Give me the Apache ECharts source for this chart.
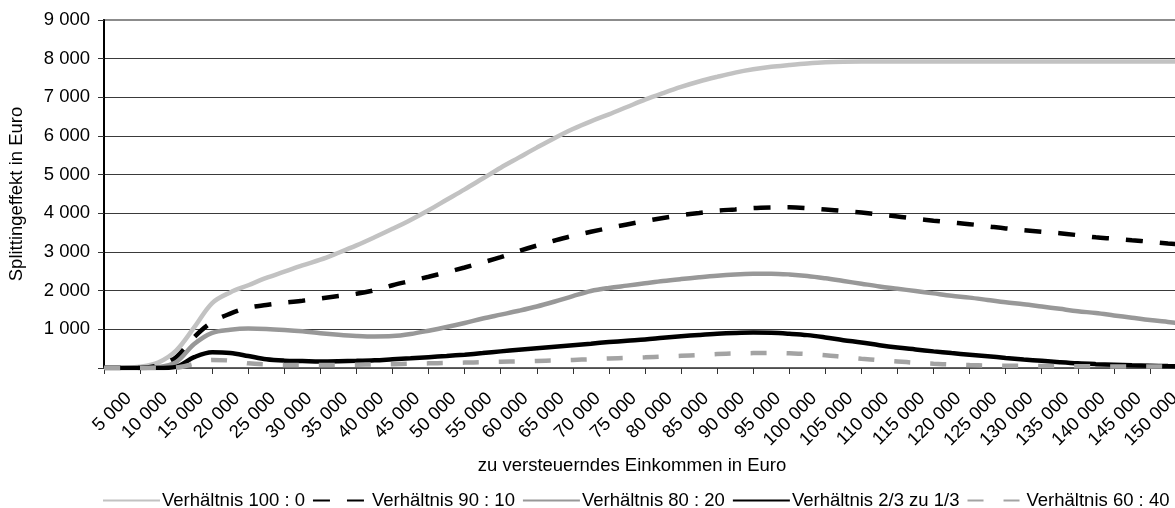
<!DOCTYPE html>
<html>
<head>
<meta charset="utf-8">
<script src="https://cdn.jsdelivr.net/npm/echarts@6/dist/echarts.min.js"></script>
<style>
  html, body { margin: 0; padding: 0; background: #fff; }
  #container { width: 1175px; height: 508px; }
</style>
</head>
<body>
<div id="container"></div>
<script>
// zu versteuerndes Einkommen (Stützstellen alle 2 500 Euro)
var incomes = [
  2500, 5000, 7500, 10000, 12500, 15000, 17500, 20000, 22500, 25000,
  27500, 30000, 32500, 35000, 37500, 40000, 42500, 45000, 47500, 50000,
  52500, 55000, 57500, 60000, 62500, 65000, 67500, 70000, 72500, 75000,
  77500, 80000, 82500, 85000, 87500, 90000, 92500, 95000, 97500, 100000,
  102500, 105000, 107500, 110000, 112500, 115000, 117500, 120000, 122500, 125000,
  127500, 130000, 132500, 135000, 137500, 140000, 142500, 145000, 147500, 150000,
  152500
];

var seriesNames = ['Verhältnis 100 : 0', 'Verhältnis 90 : 10', 'Verhältnis 80 : 20', 'Verhältnis 2/3 zu 1/3', 'Verhältnis 60 : 40'];

var v100_0 = [
  0, 0, 30, 140, 450, 1050, 1680, 1955, 2140, 2330,
  2490, 2655, 2800, 2980, 3170, 3380, 3600, 3830, 4080, 4350,
  4620, 4900, 5180, 5440, 5700, 5950, 6180, 6380, 6560, 6750,
  6940, 7110, 7270, 7410, 7530, 7640, 7725, 7790, 7835, 7875,
  7905, 7920, 7925, 7925, 7925, 7925, 7925, 7925, 7925, 7925,
  7925, 7925, 7925, 7925, 7925, 7925, 7925, 7925, 7925, 7925,
  7925
];
var v90_10 = [
  0, 0, 0, 70, 280, 800, 1190, 1405, 1560, 1630,
  1690, 1740, 1800, 1860, 1920, 2010, 2140, 2250, 2360, 2475,
  2600, 2730, 2867, 3024, 3166, 3298, 3420, 3523, 3620, 3712,
  3800, 3880, 3950, 4010, 4070, 4100, 4135, 4150, 4155, 4135,
  4100, 4060, 4020, 3970, 3920, 3860, 3810, 3765, 3720, 3665,
  3610, 3565, 3525, 3485, 3435, 3380, 3345, 3305, 3265, 3220,
  3180
];
var v80_20 = [
  0, 0, 0, 20, 150, 620, 910, 990, 1020, 1010,
  985, 950, 900, 860, 830, 815, 825, 880, 965, 1060,
  1165, 1280, 1380, 1480, 1590, 1720, 1860, 1990, 2070, 2130,
  2190, 2250, 2300, 2345, 2385, 2415, 2435, 2440, 2420, 2380,
  2320, 2250, 2180, 2110, 2050, 1990, 1930, 1870, 1820, 1760,
  1700, 1650, 1590, 1530, 1470, 1420, 1360, 1300, 1240, 1190,
  1140
];
var v23_13 = [
  0, 0, 0, 0, 30, 280, 410, 390, 310, 225,
  190, 180, 170, 175, 185, 200, 225, 250, 280, 310,
  345, 385, 430, 470, 510, 550, 590, 630, 670, 705,
  735, 780, 820, 855, 885, 905, 915, 910, 885, 850,
  790, 720, 660, 590, 530, 480, 430, 385, 345, 305,
  260, 220, 185, 150, 120, 100, 85, 70, 60, 50,
  45
];
var v60_40 = [
  0, 0, 0, 0, 10, 110, 210, 190, 120, 90,
  80, 75, 75, 80, 85, 95, 100, 110, 120, 130,
  140, 150, 160, 170, 180, 195, 210, 225, 245, 260,
  275, 295, 315, 335, 360, 375, 385, 390, 380, 360,
  330, 285, 240, 200, 170, 135, 110, 90, 75, 65,
  60, 55, 50, 50, 45, 45, 40, 40, 40, 35,
  35
];

// Tausendertrennzeichen als Leerzeichen
function fmt(v) {
  return String(v).replace(/\B(?=(\d{3})+(?!\d))/g, ' ');
}

var font = 'Liberation Sans, Arial, Helvetica, sans-serif';
var fs = 18.5;

var dom = document.getElementById('container');
var myChart = echarts.init(dom, null, { renderer: 'canvas' });

function line(name, data, color, type) {
  return {
    name: name,
    type: 'line',
    data: data,
    smooth: 0.35,
    symbol: 'none',
    lineStyle: { color: color, width: 4.5, type: type, cap: 'butt' },
    itemStyle: { color: color }
  };
}

var option = {
  animation: false,
  backgroundColor: '#fff',
  textStyle: { fontFamily: font },
  grid: {
    left: 104,
    top: 20,
    right: -11,
    bottom: 140,
    containLabel: false,
    outerBoundsMode: 'none',
    show: true,
    borderColor: '#8c8c8c',
    borderWidth: 2
  },
  legend: {
    left: 97,
    top: 486,
    itemWidth: 57,
    itemHeight: 14,
    itemGap: 7,
    itemStyle: { opacity: 0 },
    textStyle: { fontFamily: font, fontSize: fs, color: '#000', padding: [0, 0, 0, -3] },
    data: seriesNames
  },
  xAxis: {
    type: 'category',
    boundaryGap: false,
    data: incomes,
    name: 'zu versteuerndes Einkommen in Euro',
    nameLocation: 'middle',
    nameGap: 85,
    nameTextStyle: { fontFamily: font, fontSize: fs, color: '#000', padding: [0, 26, 0, 0] },
    axisLine: { lineStyle: { color: '#555', width: 1.5 } },
    axisTick: {
      length: 6,
      interval: function (index) { return index % 2 === 0; },
      lineStyle: { color: '#333' }
    },
    axisLabel: {
      rotate: 45,
      margin: 21,
      align: 'right',
      verticalAlign: 'top',
      fontSize: fs,
      color: '#000',
      interval: function (index) { return index % 2 === 1; },
      formatter: function (v) { return fmt(v); }
    },
    splitLine: { show: false }
  },
  yAxis: {
    type: 'value',
    min: 0,
    max: 9000,
    interval: 1000,
    name: 'Splittingeffekt in Euro',
    nameLocation: 'middle',
    nameGap: 78,
    nameTextStyle: { fontFamily: font, fontSize: fs, color: '#000' },
    axisLine: { show: true, lineStyle: { color: '#000', width: 2 } },
    axisTick: { show: true, length: 6, lineStyle: { color: '#333' } },
    axisLabel: {
      margin: 14,
      fontSize: fs,
      color: '#000',
      formatter: function (v) { return v === 0 ? '' : fmt(v); }
    },
    splitLine: {
      lineStyle: {
        color: ['#3a3a3a', '#3a3a3a', '#3a3a3a', '#3a3a3a', '#3a3a3a',
                '#3a3a3a', '#3a3a3a', '#3a3a3a', '#3a3a3a', '#8c8c8c'],
        width: 1
      }
    }
  },
  series: [
    line(seriesNames[0], v100_0, '#c2c2c2', 'solid'),
    line(seriesNames[1], v90_10, '#000', [17, 17]),
    line(seriesNames[2], v80_20, '#989898', 'solid'),
    line(seriesNames[3], v23_13, '#000', 'solid'),
    line(seriesNames[4], v60_40, '#a3a3a3', [16, 20])
  ]
};

if (option && typeof option === 'object') {
  myChart.setOption(option);
}
</script>
</body>
</html>
